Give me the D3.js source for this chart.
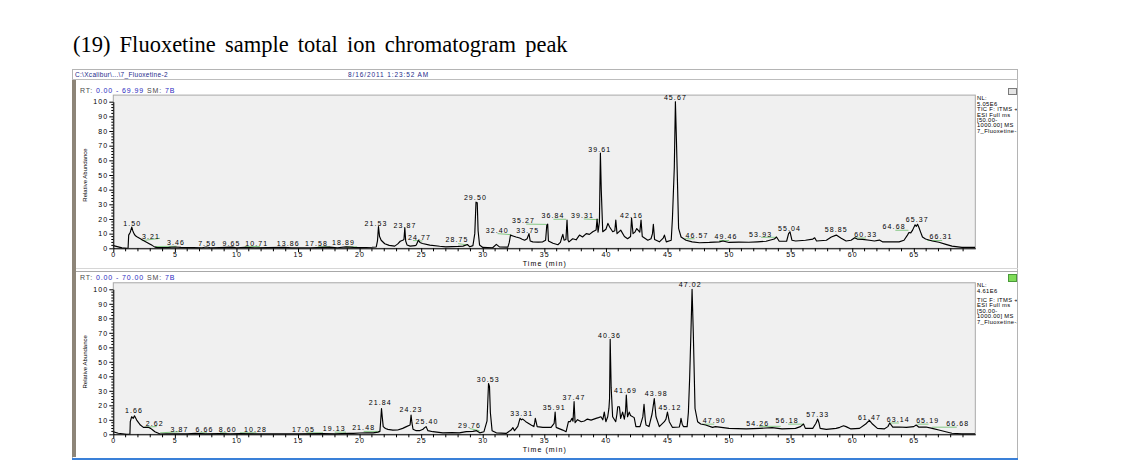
<!DOCTYPE html>
<html><head><meta charset="utf-8">
<script src="https://cdn.jsdelivr.net/npm/d3@7"></script>
<style>body{margin:0;background:#fff}svg{display:block}</style>
</head><body><svg id="c" width="1130" height="475"></svg>
<script>
const title = "(19) Fluoxetine sample total ion chromatogram peak";
const fileName = "C:\\Xcalibur\\...\\7_Fluoxetine-2";
const fileDate = "8/16/2011 1:23:52 AM";
const xTicks = [0,5,10,15,20,25,30,35,40,45,50,55,60,65];
const yTicks = [0,10,20,30,40,50,60,70,80,90,100];

const topRange = ["0.00 - 69.99", "7B"];
const topInfo = ["NL:", "5.05E6", "TIC F: ITMS + c", "ESI Full ms", "[50.00-", "1000.00] MS", "7_Fluoxetine-1"];
const topTrace = [[0,1.8],[0.4,1.0],[0.7,0.3],[1.1,0],[1.2,0.2],[1.25,9],[1.38,11],[1.5,14.5],[1.58,12],[1.68,10],[1.8,8.5],[1.95,7.7],[2.2,6.5],[2.44,5.4],[2.7,4.2],[2.92,3.1],[3.15,2],[3.38,0.8],[3.6,0.5],[4.5,0.6],[5.0,0.9],[5.5,0.6],[6.5,0.5],[7.2,0.4],[7.56,0.9],[7.9,0.4],[8.6,0.5],[9.65,0.8],[10.0,0.4],[10.71,0.7],[11.5,0.4],[12.5,0.5],[13.86,0.7],[14.5,0.4],[16.0,0.4],[17.58,0.8],[18.2,0.4],[18.89,1.0],[19.5,0.6],[20.1,0.5],[21.0,0.7],[21.35,0.9],[21.45,5],[21.53,14.8],[21.62,8],[21.75,5.5],[22.04,3.1],[22.4,2.0],[22.85,1.5],[23.1,3],[23.3,4.8],[23.5,5.5],[23.6,6],[23.67,14],[23.74,5],[23.85,2.3],[24.1,1.5],[24.5,1.8],[24.6,2.2],[24.77,5.5],[24.9,4],[25.1,3.3],[25.7,2.2],[26.5,1.4],[27.0,1.0],[28.0,1.3],[28.4,1.5],[28.75,2.6],[28.95,1.0],[29.2,1.8],[29.35,10],[29.45,31.5],[29.55,31],[29.62,12],[29.74,2.2],[30.0,0.6],[30.8,0.4],[31.1,2.7],[31.35,1.0],[32.04,0.8],[32.15,4],[32.25,9],[32.45,8.4],[32.7,7.7],[33.0,7],[33.2,6.2],[33.4,5.5],[33.6,6.5],[33.75,10],[33.85,5],[34.06,4.4],[34.5,4.2],[34.87,4.4],[35.1,5.5],[35.2,16],[35.27,16.5],[35.33,5],[35.7,3.4],[36.1,2.4],[36.3,4],[36.4,7],[36.5,9.5],[36.6,5.5],[36.75,6],[36.84,19.3],[36.92,5.5],[37.0,4.4],[37.3,6.5],[37.58,5.8],[37.85,9],[38.1,7.7],[38.4,10],[38.66,9.5],[38.93,11.3],[39.2,12.5],[39.28,20],[39.36,11],[39.47,18],[39.55,65],[39.62,40],[39.74,11.3],[40.0,13],[40.16,17],[40.3,14.5],[40.55,11.3],[40.72,12],[40.8,19.3],[40.9,10],[41.2,12.4],[41.5,8],[41.76,6.5],[42.0,8],[42.08,20.7],[42.2,10],[42.35,11],[42.5,13.5],[42.75,11],[42.85,19.3],[42.95,8],[43.4,5.5],[43.66,6.5],[43.78,10],[43.85,16.4],[43.95,6],[44.34,4.4],[44.65,7],[44.75,9],[44.9,4.4],[45.3,5.5],[45.4,20.7],[45.55,55],[45.64,100],[45.72,75],[45.9,13.6],[46.1,7.7],[46.5,5.5],[47.0,4.4],[47.6,3.8],[48.4,4.0],[49.2,4.4],[49.5,5.0],[50.0,4.0],[50.8,4.2],[51.6,4.1],[52.3,4.4],[53.0,4.8],[53.67,6.3],[53.85,7.7],[54.07,4.8],[54.67,4.8],[54.83,10],[54.94,11.3],[55.1,5.5],[55.4,5.0],[56.2,5.5],[56.8,6.3],[56.95,7.2],[57.1,5.0],[57.9,5.5],[58.3,7.7],[58.7,9],[59.1,6.8],[59.5,5.0],[59.9,5.5],[60.2,7.2],[60.4,6.3],[60.83,6.1],[61.4,5.5],[61.8,5.0],[62.2,5.6],[62.45,4.4],[63.3,4.4],[63.8,4.4],[64.2,5.5],[64.48,9],[64.6,10.8],[64.75,10.5],[64.9,12.4],[65.1,16],[65.2,15],[65.3,16.4],[65.4,14.5],[65.55,11],[65.7,7.7],[65.95,6.3],[66.5,5.0],[67.04,4.1],[67.6,2.7],[68.1,1.5],[68.9,0.6],[69.99,0.6]];
const topLabels = [["1.50",1.54,15],["3.21",3.06,6.3],["3.46",5.09,2],["7.56",7.62,1.7],["9.65",9.6,1.7],["10.71",11.65,1.7],["13.86",14.2,1.7],["17.58",16.5,1.7],["18.89",18.7,2.5],["21.53",21.33,15],["23.87",23.68,13.6],["24.77",24.87,5.7],["28.75",27.9,4],["29.50",29.4,33],["32.40",31.17,10.6],["35.27",33.3,17],["33.75",33.66,10.6],["36.84",35.7,20.5],["39.31",38.1,20.8],["39.61",39.5,66],["42.16",42.07,20.8],["45.67",45.64,101.3],["46.57",47.4,7.2],["49.46",49.75,6.3],["53.93",52.56,7.9],["55.04",54.9,11.8],["58.85",58.7,10.9],["60.33",61.1,7.9],["64.68",63.4,13.2],["65.37",65.27,18],["66.31",67.2,6.1]];
const topLeaders = [[2.3,5.2,3.79,6.8],[3.38,1.2,5.14,1.4],[10.68,1.0,11.9,1.3],[16.6,1.0,17.6,1.0],[18.9,1.0,19.8,1.0],[24.33,5.3,25.1,5.0],[28.0,3.2,28.8,2.2],[31.2,10,32.3,9.3],[33.53,16.5,35.15,16.3],[35.74,19.8,36.77,19.8],[38.2,20,39.4,19.5],[46.4,6.5,47.2,6.5],[49.2,5.3,50.0,5.3],[52.6,7.5,53.85,7.5],[60.15,7,61.1,7],[63.5,12.3,64.56,12.3],[66.1,5.3,67.3,5.3]];

const botRange = ["0.00 - 70.00", "7B"];
const botInfo = ["NL:", "4.61E6", "TIC F: ITMS + c", "ESI Full ms", "[50.00-", "1000.00] MS", "7_Fluoxetine-2"];
const botTrace = [[0,1.8],[0.4,0.7],[1.08,0],[1.35,0.2],[1.38,8.7],[1.49,12.1],[1.62,11],[1.72,12.8],[1.9,9.8],[2.05,8],[2.2,6.4],[2.44,4.8],[2.84,4.8],[3.03,4.1],[3.2,3],[3.38,1.8],[3.8,0.2],[4.33,0.3],[5.0,0.4],[6.0,0.3],[6.66,0.6],[7.5,0.3],[8.6,0.5],[9.5,0.3],[10.28,0.5],[11.5,0.3],[13,0.3],[15,0.3],[17.05,0.5],[18,0.3],[19.13,0.7],[19.5,0.6],[20.0,0.9],[20.6,1.0],[21.1,1.0],[21.5,1.5],[21.65,2],[21.72,10],[21.78,17.8],[21.84,12],[21.92,5.3],[22.1,4],[22.3,3.4],[22.7,2.9],[23.1,3],[23.5,4.1],[23.8,5.3],[24.1,6.4],[24.18,13.3],[24.25,8],[24.34,3.5],[24.6,2.5],[24.87,2.5],[25.15,3.5],[25.28,4.6],[25.4,5.3],[25.55,2.5],[25.95,1.8],[26.76,1.0],[27.5,1.2],[28.1,1.0],[28.66,1.8],[29.2,2.0],[29.5,2.5],[29.76,1.0],[30.1,1.8],[30.35,9.3],[30.47,35],[30.55,33],[30.62,15],[30.76,2.5],[31.1,1.0],[31.9,0.6],[32.3,2.9],[32.45,4.6],[32.58,2.5],[32.85,5.5],[33.03,11],[33.15,10],[33.25,10.5],[33.5,8.7],[33.93,6.4],[34.15,5.3],[34.22,8],[34.27,11],[34.35,8],[34.42,5.3],[34.88,4.8],[35.55,4.8],[35.8,7.6],[35.88,15.3],[35.96,5],[36.0,4.6],[36.5,2.9],[36.77,1.8],[36.96,8.7],[37.1,8.7],[37.25,11],[37.33,9],[37.42,22.5],[37.5,8],[37.7,10.1],[38.0,8.7],[38.25,9.2],[38.5,10.5],[38.8,9.8],[39.2,11],[39.4,11.5],[39.6,12.1],[39.75,10],[39.87,15.3],[40.0,8.7],[40.15,12.1],[40.25,18],[40.3,24.7],[40.35,65.5],[40.43,32],[40.55,12.1],[40.8,8.7],[40.9,14],[40.96,19],[41.1,19],[41.2,11],[41.36,15.3],[41.5,10.5],[41.6,16],[41.66,27],[41.76,12.1],[41.9,15.3],[42.0,13],[42.3,11.5],[42.44,5.3],[42.77,5.3],[43.0,12],[43.1,20.6],[43.2,10],[43.26,6.4],[43.5,5.3],[43.75,14],[43.93,24.7],[44.07,12.1],[44.34,5.3],[44.75,8.7],[44.88,10.5],[45.0,15.3],[45.15,8.7],[45.4,4.8],[45.96,5],[46.05,8],[46.1,11],[46.2,7],[46.3,5.3],[46.6,5.3],[46.7,15],[46.8,38],[46.9,68],[47.0,100],[47.1,70],[47.24,17.8],[47.45,8.7],[47.7,7.1],[48.1,6.4],[48.66,4.8],[48.9,5.3],[50.0,4.1],[51.4,3.7],[52.5,4.1],[53.5,4.6],[54.3,3.7],[55.4,4.1],[55.8,5.3],[56.05,7.1],[56.2,4.1],[56.8,4.1],[57.06,7.6],[57.2,10.5],[57.3,8],[57.4,4.1],[57.9,3.4],[58.7,4.1],[59.0,4.8],[59.3,5.9],[59.5,5.3],[59.9,3.7],[60.6,4.1],[61.1,7.1],[61.4,9.6],[61.65,7.1],[62.05,4.1],[62.6,3.7],[62.9,5.3],[63.05,7.8],[63.3,5.0],[63.8,5.0],[64.4,4.8],[65.0,5.3],[65.2,6.4],[65.4,5.0],[66.0,5.0],[66.5,4.1],[67.04,3.0],[67.6,1.8],[68.1,0.7],[68.9,0.3],[70,0.3]];
const botLabels = [["1.66",1.68,14.5],["2.62",3.36,5.9],["3.87",5.38,1.8],["6.66",7.41,1.8],["8.60",9.3,1.8],["10.28",11.55,1.8],["17.05",15.44,1.8],["19.13",17.95,2.3],["21.48",20.33,3],["21.84",21.68,20.2],["24.23",24.17,15.6],["25.40",25.47,6.9],["29.76",28.93,4.1],["30.53",30.45,35.9],["33.31",33.17,12.9],["35.91",35.8,16.8],["37.47",37.42,23.7],["40.36",40.3,66.6],["41.69",41.6,28.3],["43.98",44.1,26.6],["45.12",45.2,16.8],["47.02",46.85,101.8],["47.90",48.8,7.6],["54.26",52.34,5.9],["56.18",54.72,7.6],["57.33",57.2,12.2],["61.47",61.4,9.9],["63.14",63.75,8.3],["65.19",66.13,7.6],["66.68",68.57,5.9]];
const botLeaders = [[2.57,5.0,3.52,5.3],[3.8,1.0,5.4,1.8],[7.0,1,7.6,1],[8.66,1,9.2,1],[10.28,1,11.62,1],[15.68,1,17.03,1],[17.98,1.5,18.9,1.5],[20.33,2,21.6,2],[28.93,4,29.74,2.5],[47.85,7,48.8,7],[52.45,5.5,54.2,5.5],[54.8,7,56.1,7],[63.0,7.8,63.8,7.8],[65.3,7,66.2,7],[66.5,4.9,68.5,4.9]];

const svg = d3.select("#c");
const SANS = '"Liberation Sans", Arial, sans-serif';

svg.append("text").attr("x",73).attr("y",52)
  .attr("font-family",'"Liberation Serif","Times New Roman",serif')
  .attr("font-size",22.5).attr("word-spacing",3.5).attr("fill","#000").text(title);

svg.append("rect").attr("x",72.5).attr("y",69.5).attr("width",945).attr("height",389)
  .attr("fill","#fff").attr("stroke","#b4b4b4");
svg.append("text").attr("x",75).attr("y",77).attr("font-family",SANS).attr("font-size",6.5)
  .attr("letter-spacing",0.3).attr("fill","#1c2a8a").text(fileName);
svg.append("text").attr("x",348).attr("y",77).attr("font-family",SANS).attr("font-size",6.5)
  .attr("letter-spacing",0.9).attr("fill","#1c2a8a").text(fileDate);
svg.append("line").attr("x1",72).attr("x2",1018).attr("y1",79.5).attr("y2",79.5).attr("stroke","#bdbdbd");
svg.append("rect").attr("x",72).attr("y",80).attr("width",4).attr("height",377).attr("fill","#8d8578");
svg.append("line").attr("x1",76).attr("x2",1018).attr("y1",268.5).attr("y2",268.5).attr("stroke","#d6d6d6");
svg.append("line").attr("x1",76).attr("x2",1018).attr("y1",271.5).attr("y2",271.5).attr("stroke","#a8a8a8");
svg.append("line").attr("x1",72).attr("x2",1018).attr("y1",459).attr("y2",459).attr("stroke","#3a80d8").attr("stroke-width",2);
svg.append("rect").attr("x",1008.5).attr("y",88.5).attr("width",8).attr("height",6).attr("fill","#e4e4e4").attr("stroke","#7a7a7a");
svg.append("rect").attr("x",1008.5).attr("y",274.5).attr("width",8).attr("height",7).attr("fill","#7fdc58").attr("stroke","#4a9a3a");

svg.append("clipPath").attr("id","infoClip").append("rect")
  .attr("x",976).attr("y",80).attr("width",41).attr("height",380);

const panels = [
  {trace: topTrace, labels: topLabels, leaders: topLeaders, range: topRange, info: topInfo,
   xMax: 69.99, yBase: 248.3, yTop: 101.7, headY: 93, infoY: [99.8,105.5,111.2,116.6,122,127.4,133], timeY: 265.5, id: "t"},
  {trace: botTrace, labels: botLabels, leaders: botLeaders, range: botRange, info: botInfo,
   xMax: 70, yBase: 434.3, yTop: 289.3, headY: 279.5, infoY: [287.3,292.6,301.6,307.2,313,318.3,324], timeY: 452, id: "b"}
];

panels.forEach(p => {
  const x = d3.scaleLinear().domain([0, p.xMax]).range([113.3, 975.3]);
  const y = d3.scaleLinear().domain([0, 100]).range([p.yBase, p.yTop]);
  const g = svg.append("g");

  const h = g.append("text").attr("x",80).attr("y",p.headY).attr("font-family",SANS)
    .attr("font-size",7).attr("letter-spacing",0.9);
  h.append("tspan").attr("fill","#4a4a4a").text("RT: ");
  h.append("tspan").attr("fill","#2a2ac0").text(p.range[0]);
  h.append("tspan").attr("fill","#4a4a4a").text("   SM: ");
  h.append("tspan").attr("fill","#2a2ac0").text(p.range[1]);

  g.append("rect").attr("x",x(0)).attr("y",y(104.5)).attr("width",x(p.xMax)-x(0))
    .attr("height",y(0)-y(104.5)).attr("fill","#f0f0f0").attr("stroke","#a8a8a8").attr("stroke-width",1);

  g.append("clipPath").attr("id","clip"+p.id).append("rect")
    .attr("x",x(0)).attr("y",y(104.5)).attr("width",x(p.xMax)-x(0)).attr("height",y(0)-y(104.5)+0.5);

  g.append("g").selectAll("line").data(p.leaders).join("line")
    .attr("x1",d=>x(d[0])).attr("y1",d=>y(d[1])).attr("x2",d=>x(d[2])).attr("y2",d=>y(d[3]))
    .attr("stroke","#86c886").attr("stroke-width",1);

  const line = d3.line().x(d=>x(d[0])).y(d=>y(d[1]));
  g.append("path").datum(p.trace).attr("d",line).attr("fill","none").attr("stroke","#000")
    .attr("stroke-width",1.15).attr("stroke-linejoin","round").attr("clip-path","url(#clip"+p.id+")");

  const ya = g.append("g").attr("transform",`translate(${x(0)},0)`)
    .call(d3.axisLeft(y).tickValues(yTicks).tickSize(4).tickSizeOuter(0).tickPadding(1));
  ya.selectAll("text").attr("font-family",SANS).attr("font-size",7).attr("letter-spacing",1.1).attr("fill","#000");
  ya.select(".domain").attr("stroke","#000");
  g.append("g").selectAll("line").data(d3.range(0,101,2).filter(v=>v%10!==0)).join("line")
    .attr("x1",x(0)-2).attr("x2",x(0)).attr("y1",d=>y(d)).attr("y2",d=>y(d)).attr("stroke","#000");

  const xa = g.append("g").attr("transform",`translate(0,${y(0)})`)
    .call(d3.axisBottom(x).tickValues(xTicks).tickSize(4).tickSizeOuter(0).tickPadding(0).tickFormat(d3.format("d")));
  xa.selectAll("text").attr("font-family",SANS).attr("font-size",7).attr("letter-spacing",1.1).attr("fill","#000");
  xa.select(".domain").attr("stroke","#000");
  g.append("g").selectAll("line").data(d3.range(1,70,1).filter(v=>v%5!==0)).join("line")
    .attr("x1",d=>x(d)).attr("x2",d=>x(d)).attr("y1",y(0)).attr("y2",y(0)+3).attr("stroke","#000");

  g.append("text").attr("x",x(p.xMax/2) + 0.5).attr("y",p.timeY).attr("text-anchor","middle")
    .attr("font-family",SANS).attr("font-size",7).attr("letter-spacing",1.1).attr("fill","#000").text("Time (min)");
  g.append("text").attr("transform",`translate(87,${(y(0)+y(100))/2}) rotate(-90)`).attr("text-anchor","middle")
    .attr("font-family",SANS).attr("font-size",6).attr("fill","#000").text("Relative Abundance");

  g.append("g").selectAll("text").data(p.labels).join("text")
    .attr("x",d=>x(d[1])).attr("y",d=>y(d[2])).attr("text-anchor","middle")
    .attr("font-family",SANS).attr("font-size",7).attr("letter-spacing",1.1).attr("fill","#000")
    .text(d=>d[0]);

  g.append("g").attr("clip-path","url(#infoClip)").selectAll("text").data(p.info).join("text")
    .attr("x",977).attr("y",(d,i)=>p.infoY[i]).attr("font-family",SANS).attr("font-size",5.8)
    .attr("letter-spacing",0.35).attr("fill","#000").text(d=>d);
});
</script>
</body></html>
